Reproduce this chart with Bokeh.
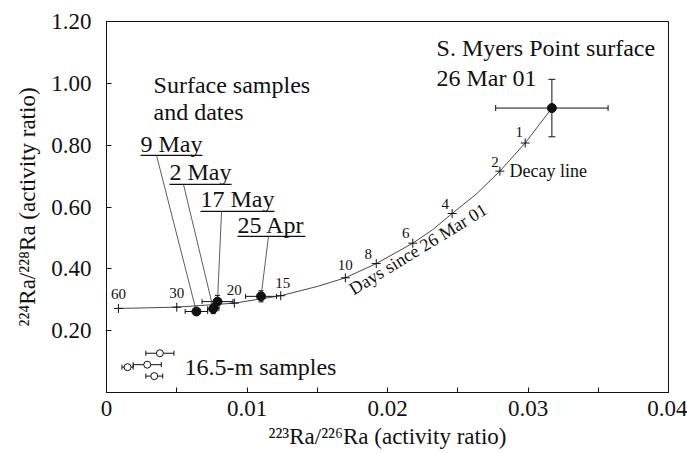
import numpy as np
from bokeh.plotting import figure
from bokeh.models import Range1d, FixedTicker, ColumnDataSource, Whisker, TeeHead
from bokeh.core.properties import value
from bokeh.embed import file_html
from bokeh.resources import INLINE

# ---------------- data ----------------
x_ticks = [0.0, 0.01, 0.02, 0.03, 0.04]
x_minor = [0.005, 0.015, 0.025, 0.035]
x_tick_labels = ["0", "0.01", "0.02", "0.03", "0.04"]
y_ticks = [0.0, 0.2, 0.4, 0.6, 0.8, 1.0, 1.2]
y_tick_labels = ["", "0.20", "0.40", "0.60", "0.80", "1.00", "1.20"]

# decay line from the S. Myers Point surface sample
decay_days = [0, 1, 2, 3, 4, 5, 6, 8, 10, 12, 15, 20, 30, 45, 60]
decay_x = [0.0317, 0.0298, 0.0280, 0.0263, 0.0246, 0.0232, 0.0218, 0.0192,
           0.0170, 0.0150, 0.0124, 0.0091, 0.0050, 0.0020, 0.00085]
decay_y = [0.920, 0.807, 0.716, 0.641, 0.579, 0.526, 0.483, 0.417,
           0.371, 0.343, 0.313, 0.289, 0.276, 0.273, 0.272]
marked_days = [1, 2, 4, 6, 8, 10, 15, 20, 30, 60]

# S. Myers Point surface, 26 Mar 01
myers_x = [0.0317]
myers_y = [0.920]
myers_xerr = [0.0040]
myers_yerr = [0.093]

# surface samples and dates
surface_dates = ["9 May", "2 May", "17 May", "25 Apr"]
surface_x = [0.0064, 0.0076, 0.0079, 0.0110]
surface_y = [0.262, 0.271, 0.294, 0.311]
surface_xerr = [0.0008, 0.0004, 0.0011, 0.0011]
surface_yerr = [0.008, 0.016, 0.020, 0.018]

# 16.5-m samples
deep_x = [0.0015, 0.0029, 0.0034, 0.0038]
deep_y = [0.082, 0.090, 0.053, 0.127]
deep_xerr = [0.0004, 0.0010, 0.0006, 0.0010]

# ---------------- figure ----------------
FONT = "Liberation Serif"
BLACK = "#111111"

p = figure(width=687, height=453, output_backend="svg", toolbar_location=None,
           x_range=Range1d(0, 0.04), y_range=Range1d(0, 1.2),
           min_border_left=106, min_border_right=19, min_border_top=21,
           min_border_bottom=61)
p.background_fill_color = "white"
p.border_fill_color = "white"
p.outline_line_color = BLACK
p.outline_line_width = 1
p.xgrid.visible = False
p.ygrid.visible = False

for ax in (p.xaxis[0], p.yaxis[0]):
    ax.axis_line_color = BLACK
    ax.major_tick_line_color = BLACK
    ax.minor_tick_line_color = BLACK
    ax.major_tick_in = 5
    ax.major_tick_out = 0
    ax.minor_tick_in = 5
    ax.minor_tick_out = 0
    ax.major_label_text_font = FONT
    ax.major_label_text_font_size = "23px"
    ax.major_label_text_color = BLACK
    ax.axis_label_text_font = FONT
    ax.axis_label_text_font_size = "23px"
    ax.axis_label_text_font_style = "normal"
    ax.axis_label_text_color = BLACK

p.xaxis.ticker = FixedTicker(ticks=x_ticks, minor_ticks=x_minor)
p.xaxis.major_label_overrides = {t: l for t, l in zip(x_ticks, x_tick_labels)}
p.xaxis.major_label_standoff = 8
p.xaxis.axis_label = "\u00b2\u00b2\u00b3Ra/\u00b2\u00b2\u2076Ra (activity ratio)"
p.xaxis.axis_label_standoff = 5

p.yaxis.ticker = FixedTicker(ticks=y_ticks, minor_ticks=[])
p.yaxis.major_label_overrides = {t: l for t, l in zip(y_ticks, y_tick_labels)}
p.yaxis.major_label_standoff = 15
p.yaxis.axis_label = "\u00b2\u00b2\u2074Ra/\u00b2\u00b2\u2078Ra (activity ratio)"
p.yaxis.axis_label_standoff = 8

# decay line and day marks
p.line(decay_x, decay_y, line_color="#333333", line_width=0.9)
mask = np.isin(decay_days, marked_days)
mx = np.array(decay_x)[mask]
my = np.array(decay_y)[mask]
days_marked = list(np.array(decay_days)[mask])
p.scatter(mx, my, marker="cross", size=9, line_color=BLACK, line_width=1)
day_dx = {1: -6, 2: -5, 4: -7, 6: -7, 8: -8, 10: 0, 15: 2, 20: 0, 30: 0, 60: 0}
day_dy = {1: -11, 2: -9, 4: -9, 6: -10, 8: -10, 10: -13, 15: -13, 20: -13, 30: -14, 60: -14}
day_src = ColumnDataSource(dict(x=mx, y=my, t=[str(d) for d in days_marked],
                                dx=[day_dx[d] for d in days_marked],
                                dy=[day_dy[d] for d in days_marked]))
p.text(x="x", y="y", text="t", x_offset="dx", y_offset="dy", source=day_src,
       text_font=value(FONT), text_font_size="15px", text_align="center",
       text_baseline="middle", text_color=BLACK)

# leader lines from date labels to surface samples
date_x = [0.00242, 0.00448, 0.00669, 0.00932]
date_y = [0.8026, 0.712, 0.6246, 0.5405]
uline_y = [0.767, 0.673, 0.586, 0.505]
uline_x1 = [0.00683, 0.0089, 0.01196, 0.01416]
leader_x0 = [0.00356, 0.00548, 0.00819, 0.01153]
p.segment(x0=leader_x0, y0=uline_y, x1=surface_x, y1=surface_y,
          line_color="#333333", line_width=0.8)
p.segment(x0=date_x, y0=uline_y, x1=uline_x1, y1=uline_y,
          line_color=BLACK, line_width=1.2)
p.text(x=date_x, y=date_y, text=surface_dates, text_font=value(FONT),
       text_font_size="24px", text_baseline="middle", text_align="left",
       text_color=BLACK)

# error bars
def hbars(x, y, e, size):
    src = ColumnDataSource(dict(y=y, lo=[a - b for a, b in zip(x, e)],
                                hi=[a + b for a, b in zip(x, e)]))
    w = Whisker(base="y", lower="lo", upper="hi", dimension="width", source=src,
                line_color=BLACK, line_width=1,
                lower_head=TeeHead(size=size, line_color=BLACK, line_width=1),
                upper_head=TeeHead(size=size, line_color=BLACK, line_width=1))
    p.add_layout(w)

def vbars(x, y, e, size):
    src = ColumnDataSource(dict(x=x, lo=[a - b for a, b in zip(y, e)],
                                hi=[a + b for a, b in zip(y, e)]))
    w = Whisker(base="x", lower="lo", upper="hi", dimension="height", source=src,
                line_color=BLACK, line_width=1,
                lower_head=TeeHead(size=size, line_color=BLACK, line_width=1),
                upper_head=TeeHead(size=size, line_color=BLACK, line_width=1))
    p.add_layout(w)

hbars(myers_x, myers_y, myers_xerr, 6)
vbars(myers_x, myers_y, myers_yerr, 7)
hbars(surface_x, surface_y, surface_xerr, 5)
vbars(surface_x, surface_y, surface_yerr, 5)
hbars(deep_x, deep_y, deep_xerr, 5)

p.scatter(myers_x, myers_y, size=9, fill_color=BLACK, line_color=BLACK)
p.scatter(surface_x, surface_y, size=9, fill_color=BLACK, line_color=BLACK)
p.scatter(deep_x, deep_y, size=7, fill_color="white", line_color=BLACK, line_width=1)

# text annotations
big_text = ["S. Myers Point surface", "26 Mar 01", "Surface samples", "and dates",
            "16.5-m samples"]
big_x = [0.02349, 0.02349, 0.00335, 0.00335, 0.00555]
big_y = [1.113, 1.016, 0.9935, 0.906, 0.084]
p.text(x=big_x, y=big_y, text=big_text, text_font=value(FONT), text_font_size="24px",
       text_baseline="middle", text_align="left", text_color=BLACK)

p.text(x=[0.02868], y=[0.715], text=["Decay line"], text_font=value(FONT),
       text_font_size="18px", text_baseline="middle", text_align="left",
       text_color=BLACK)
p.text(x=[0.01738], y=[0.3304], text=["Days since 26 Mar 01"], angle=np.deg2rad(31.5),
       text_font=value(FONT), text_font_size="18px", text_baseline="middle",
       text_align="left", text_color=BLACK)

open("out.html", "w").write(file_html(p, INLINE))
